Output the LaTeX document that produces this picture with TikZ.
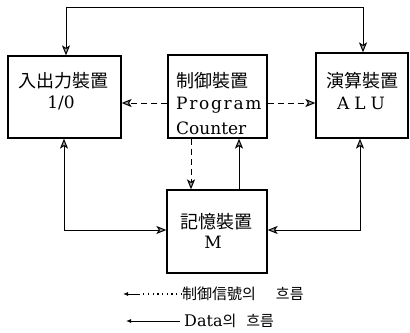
\documentclass[tikz,border=0pt]{standalone}
\usepackage{fontspec}
\setmainfont{DejaVu Serif}
\newfontfamily\cjk{Noto Sans CJK KR}
\usetikzlibrary{arrows.meta}
\begin{document}
\begin{tikzpicture}[x=1bp,y=-1bp,
  box/.style={draw, line width=1.3bp, inner sep=0pt},
  cjkl/.style={inner sep=0pt, font=\cjk\fontsize{18bp}{20bp}\selectfont},
  latl/.style={inner sep=0pt, font=\fontsize{17bp}{20bp}\selectfont},
  legl/.style={inner sep=0pt, anchor=west, font=\fontsize{16bp}{18bp}\selectfont},
  conn/.style={line width=1bp},
  dsh/.style={conn, dash pattern=on 6bp off 4bp},
  >={Stealth[length=10bp,width=8bp,inset=2.5bp,fill=gray!70]}]
\useasboundingbox (0,0) rectangle (410,333);
% boxes
\node[box, minimum width=113bp, minimum height=82bp] (io) at (64.5,97) {};
\node[box, minimum width=99bp, minimum height=83bp] (ctrl) at (217.5,96.5) {};
\node[box, minimum width=92bp, minimum height=85bp] (alu) at (362,95.5) {};
\node[box, minimum width=100bp, minimum height=83bp] (mem) at (217,231.5) {};
% texts
\node[cjkl] (iot1) at (63,81) {入出力裝置};
\node[latl] (iot2) at (61,103) {1/0};
\node[cjkl, anchor=west] (ct1) at (176,81) {制御裝置};
\node[latl, anchor=west] (ct2) at (176,105) {\addfontfeature{LetterSpace=10}Program};
\node[latl, anchor=west] (ct3) at (176,128) {Counter};
\node[cjkl] (at1) at (362,81) {演算裝置};
\node[latl] (at2) at (361,103) {A\hspace{5bp}L\hspace{5bp}U};
\node[cjkl] (mt1) at (216,222) {記憶裝置};
\node[latl] (mt2) at (213,242) {M};
% control connectors
\draw[dsh,->] (ctrl.west |- 0,103) -- (io.east |- 0,103);
\draw[dsh,->] (ctrl.east |- 0,103) -- (alu.west |- 0,103);
\draw[dsh,->] (ctrl.south -| 191,0) -- (mem.north -| 191,0);
% data connectors
\draw[conn,->] (mem.north -| 239,0) -- (ctrl.south -| 239,0);
\draw[conn,<->] (io.north -| 66,0) -- (66,7) -- (363,7) -- (alu.north -| 363,0);
\draw[conn,<->] (io.south -| 64,0) -- (64,230) -- (mem.west |- 0,230);
\draw[conn,<->] (alu.south -| 360,0) -- (360,230) -- (mem.east |- 0,230);
% legend
\node[legl] (leg1) at (182,294) {\cjk\fontsize{15bp}{18bp}\selectfont 制御信號의\hspace{20bp}흐름};
\coordinate (l1m) at (140,294);
\coordinate (l1t) at (123,294);
\draw[line width=1.1bp, dash pattern=on 1.2bp off 3.5bp] (leg1.west) -- (l1m);
\draw[line width=0.9bp, -{Latex[length=5bp,width=4bp]}] (l1m) -- (l1t);
\node[legl] (leg2) at (184,321) {Data{\cjk\fontsize{15bp}{18bp}\selectfont 의\hspace{10bp}흐름}};
\coordinate (l2t) at (126,321);
\draw[line width=0.9bp, -{Latex[length=5bp,width=4bp]}] ([xshift=-4bp]leg2.west) -- (l2t);
\end{tikzpicture}
\end{document}
